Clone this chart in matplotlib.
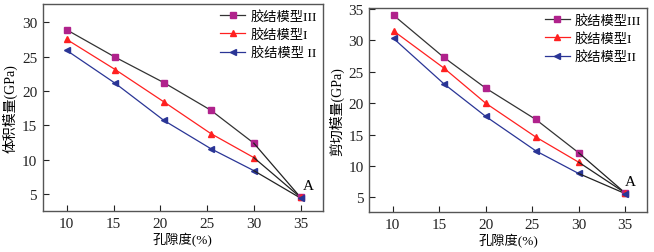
import matplotlib
matplotlib.use("Agg")
import matplotlib.pyplot as plt

plt.rcParams["font.family"] = ["Liberation Serif", "Noto Sans CJK SC"]
plt.rcParams["font.size"] = 9

# 孔隙度 (%)
x_bulk = [10, 15.2, 20.4, 25.4, 30, 35]
x_shear = [10.1, 15.5, 20, 25.4, 30, 35]

# 体积模量 (GPa)
bulk_III = [28.9, 24.9, 21.2, 17.2, 12.4, 4.5]
bulk_I = [27.5, 23.1, 18.4, 13.8, 10.3, 4.5]
bulk_II = [25.9, 21.1, 15.7, 11.6, 8.4, 4.4]

# 剪切模量 (GPa)
shear_III = [34.0, 27.3, 22.4, 17.4, 12.1, 5.7]
shear_I = [31.5, 25.6, 20.0, 14.6, 10.6, 5.7]
shear_II = [30.3, 23.1, 17.9, 12.4, 8.8, 5.6]

xticks = [10, 15, 20, 25, 30, 35]

styles = [
    ("#333333", "#B0228C", "s"),
    ("#FF2020", "#FF2020", "^"),
    ("#2A3596", "#2A3596", "<"),
]

fig = plt.figure(figsize=(6.54, 2.53), dpi=100)
ax1 = fig.add_axes([0.0653, 0.1609, 0.4286, 0.8193])
ax2 = fig.add_axes([0.5642, 0.1569, 0.4258, 0.8075])


def draw(ax, x, series, labels, ylabel, yticks, ylim, xlim, a_off):
    for y, lab, (lc, mc, mk) in zip(series, labels, styles):
        ax.plot(x[:5], y[:5], color=lc, lw=0.9, marker=mk, ms=5,
                mfc=mc, mec=mc, label=lab)
        ax.plot(x[4:], y[4:], color="#222222", lw=0.9)
    for y, (lc, mc, mk) in zip(series, styles):
        ax.plot(x[5], y[5], marker=mk, ms=5, mfc=mc, mec=mc, ls="none")
    ax.annotate("A", xy=(35, series[0][5]), xytext=(a_off, 6),
                textcoords="offset points", fontsize=11)
    ax.set_xlim(*xlim)
    ax.set_ylim(*ylim)
    ax.set_xticks(xticks)
    ax.set_yticks(yticks)
    ax.tick_params(direction="in", length=4, width=0.8, labelsize=11,
                   colors="#222222", pad=4)
    for s in ax.spines.values():
        s.set_color("#555555")
        s.set_linewidth(1.0)
    ax.set_xlabel("孔隙度(%)", fontsize=9.5, labelpad=2)
    ax.set_ylabel(ylabel, fontsize=10, labelpad=3)
    ax.legend(loc="upper right", frameon=False, fontsize=9.5, handlelength=1.9,
              handletextpad=0.4, labelspacing=0.4, borderaxespad=0.15,
              borderpad=0.3)


draw(ax1, x_bulk, [bulk_III, bulk_I, bulk_II],
     ["胶结模型III", "胶结模型I", "胶结模型 II"], "体积模量(GPa)",
     [5, 10, 15, 20, 25, 30], (2.48, 32.66), (7.43, 37.4), 2)
draw(ax2, x_shear, [shear_III, shear_I, shear_II],
     ["胶结模型III", "胶结模型I", "胶结模型II"], "剪切模量(GPa)",
     [5, 10, 15, 20, 25, 30, 35], (2.62, 35.15), (7.46, 37.4), 0)

fig.savefig("out.png", dpi=100)
